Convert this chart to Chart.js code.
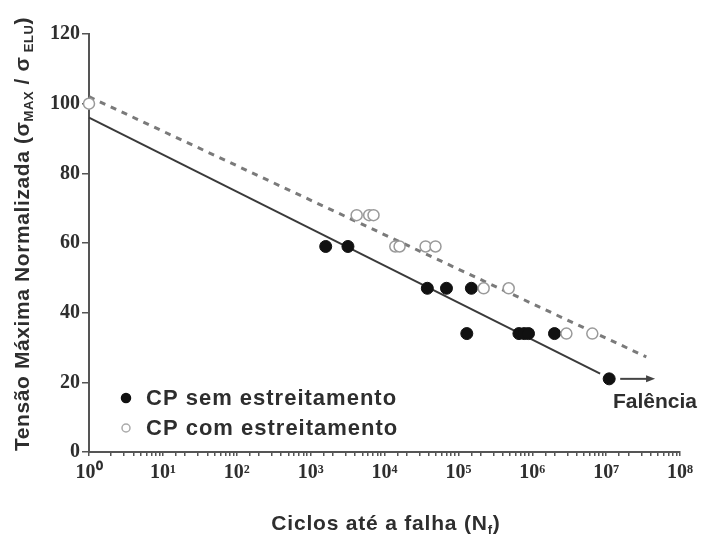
<!DOCTYPE html>
<html>
<head>
<meta charset="utf-8">
<script src="https://cdn.jsdelivr.net/npm/chart.js@4/dist/chart.umd.min.js"></script>
<style>
  html, body { margin: 0; padding: 0; background: #fff; }
  #wrap { width: 708px; height: 536px; }
</style>
</head>
<body>
<div id="wrap"><canvas id="sn"></canvas></div>
<script>
// pontos experimentais
semX = [1600, 3200, 38000, 69000, 150000, 130000, 660000, 780000, 890000, 2000000, 11000000];
semY = [59, 59, 47, 47, 47, 34, 34, 34, 34, 34, 21];
comX = [1, 4200, 6200, 7100, 14000, 16000, 36000, 49000, 220000, 480000, 2900000, 6500000];
comY = [100, 68, 68, 68, 59, 59, 59, 59, 47, 47, 34, 34];

// retas de ajuste
fitSemX = [1, 8300000];
fitSemY = [96, 22.5];
fitComX = [1, 35000000];
fitComY = [102, 27.3];

// seta "Falência"
arrowX = [15500000, 46000000];
arrowY = 21;

yTicks = [0, 20, 40, 60, 80, 100, 120];
supDigits = ['⁰','¹','²','³','⁴','⁵','⁶','⁷','⁸'];

function pts(xs, ys){
  var out = [];
  for (var i = 0; i < xs.length; i++) out.push({x: xs[i], y: ys[i]});
  return out;
}

var serif = "'Liberation Serif', 'Times New Roman', serif";
var sans = "'Liberation Sans', Arial, sans-serif";

// desenha titulos, legenda e seta
var extras = {
  id: 'extras',
  afterDraw: function(chart){
    var c = chart.ctx, xs = chart.scales.x, ys = chart.scales.y;
    c.save();
    c.fillStyle = '#2e2e2e';
    c.textBaseline = 'alphabetic';
    c.textAlign = 'left';

    // titulo eixo x com subscrito
    var f1 = 'bold 21px ' + sans, f2 = 'bold 13px ' + sans;
    c.letterSpacing = '0.8px';
    var xparts = [
      ['Ciclos até a falha (N', f1, 0],
      ['f', f2, 4],
      [')', f1, 0]
    ];
    var total = 0;
    xparts.forEach(function(p){ c.font = p[1]; total += c.measureText(p[0]).width; });
    var x0 = 386 - total / 2;
    xparts.forEach(function(p){
      c.font = p[1];
      c.fillText(p[0], x0, 530 + p[2]);
      x0 += c.measureText(p[0]).width;
    });

    // titulo eixo y
    c.save();
    c.letterSpacing = '0.6px';
    c.translate(29, 234);
    c.rotate(-Math.PI / 2);
    var parts = [
      ['Tensão Máxima Normalizada (σ', f1, 0],
      ['MAX', f2, 4],
      [' / σ', f1, 0],
      [' ELU', f2, 4],
      [')', f1, 0]
    ];
    var tw = 0;
    parts.forEach(function(p){ c.font = p[1]; tw += c.measureText(p[0]).width; });
    var px = -tw / 2;
    parts.forEach(function(p){
      c.font = p[1];
      c.fillText(p[0], px, p[2]);
      px += c.measureText(p[0]).width;
    });
    c.restore();

    // legenda
    var ds = chart.data.datasets;
    var lx = 126, ly = [398, 428];
    c.letterSpacing = '1px';
    [0, 1].forEach(function(i){
      var d = ds[i];
      c.beginPath();
      c.arc(lx, ly[i], i === 0 ? 4.5 : 4, 0, Math.PI * 2);
      c.fillStyle = d.backgroundColor;
      c.fill();
      c.lineWidth = 1.5;
      c.strokeStyle = i === 0 ? d.borderColor : '#aaa';
      c.stroke();
      c.fillStyle = '#2e2e2e';
      c.font = 'bold 22px ' + sans;
      c.textBaseline = 'middle';
      c.fillText(d.label, 146, ly[i] + 1);
    });

    // seta
    c.letterSpacing = '0px';
    var ax1 = xs.getPixelForValue(arrowX[0]), ax2 = xs.getPixelForValue(arrowX[1]);
    var ay = ys.getPixelForValue(arrowY);
    c.strokeStyle = '#444';
    c.lineWidth = 2;
    c.beginPath(); c.moveTo(ax1, ay); c.lineTo(ax2 - 6, ay); c.stroke();
    c.fillStyle = '#444';
    c.beginPath();
    c.moveTo(ax2, ay); c.lineTo(ax2 - 9, ay - 3.5); c.lineTo(ax2 - 9, ay + 3.5);
    c.closePath(); c.fill();
    c.fillStyle = '#2e2e2e';
    c.font = 'bold 21px ' + sans;
    c.textBaseline = 'middle';
    c.fillText('Falência', 613, 402);
    c.restore();
  }
};

var ctx = document.getElementById('sn').getContext('2d');
var chart = new Chart(ctx, {
  type: 'scatter',
  data: {
    datasets: [
      {
        label: 'CP sem estreitamento',
        data: pts(semX, semY),
        backgroundColor: '#111',
        borderColor: '#111',
        pointRadius: 6,
        pointBorderWidth: 1,
        clip: false,
        order: 1
      },
      {
        label: 'CP com estreitamento',
        data: pts(comX, comY),
        backgroundColor: '#fff',
        borderColor: '#9a9a9a',
        pointRadius: 5.5,
        pointBorderWidth: 1.5,
        clip: false,
        order: 0
      },
      {
        label: 'ajuste sem',
        data: pts(fitSemX, fitSemY),
        showLine: true,
        borderColor: '#3a3a3a',
        borderWidth: 2,
        pointRadius: 0,
        clip: false,
        order: 3
      },
      {
        label: 'ajuste com',
        data: pts(fitComX, fitComY),
        showLine: true,
        borderColor: '#7a7a7a',
        borderWidth: 3,
        borderDash: [6, 6],
        pointRadius: 0,
        clip: false,
        order: 2
      }
    ]
  },
  options: {
    responsive: true,
    maintainAspectRatio: false,
    animation: false,
    layout: { padding: { top: 34, right: 28, left: 0, bottom: 0 } },
    plugins: {
      legend: { display: false },
      tooltip: { enabled: false }
    },
    scales: {
      x: {
        type: 'logarithmic',
        min: 1,
        max: 100000000,
        afterFit: function(s){ s.height = 84; },
        border: { display: true, color: '#555', width: 2 },
        grid: { drawOnChartArea: false, drawTicks: true, tickLength: 4, color: '#555', lineWidth: 1.5 },
        ticks: {
          autoSkip: false,
          maxRotation: 0,
          padding: 5,
          color: '#2e2e2e',
          font: { family: serif, size: 20, weight: 'bold' },
          callback: function(v){
            var e = Math.log10(v);
            if (Math.abs(e - Math.round(e)) < 1e-9) return '10' + supDigits[Math.round(e)];
            return '';
          }
        }
      },
      y: {
        min: 0,
        max: 120,
        afterFit: function(s){ s.width = 89; },
        afterBuildTicks: function(s){ s.ticks = yTicks.map(function(v){ return {value: v}; }); },
        border: { display: true, color: '#555', width: 2 },
        grid: { drawOnChartArea: false, drawTicks: true, tickLength: 7, color: '#555', lineWidth: 1.5 },
        ticks: {
          padding: 2,
          color: '#2e2e2e',
          font: { family: serif, size: 20, weight: 'bold' }
        }
      }
    }
  },
  plugins: [extras]
});
</script>
</body>
</html>
